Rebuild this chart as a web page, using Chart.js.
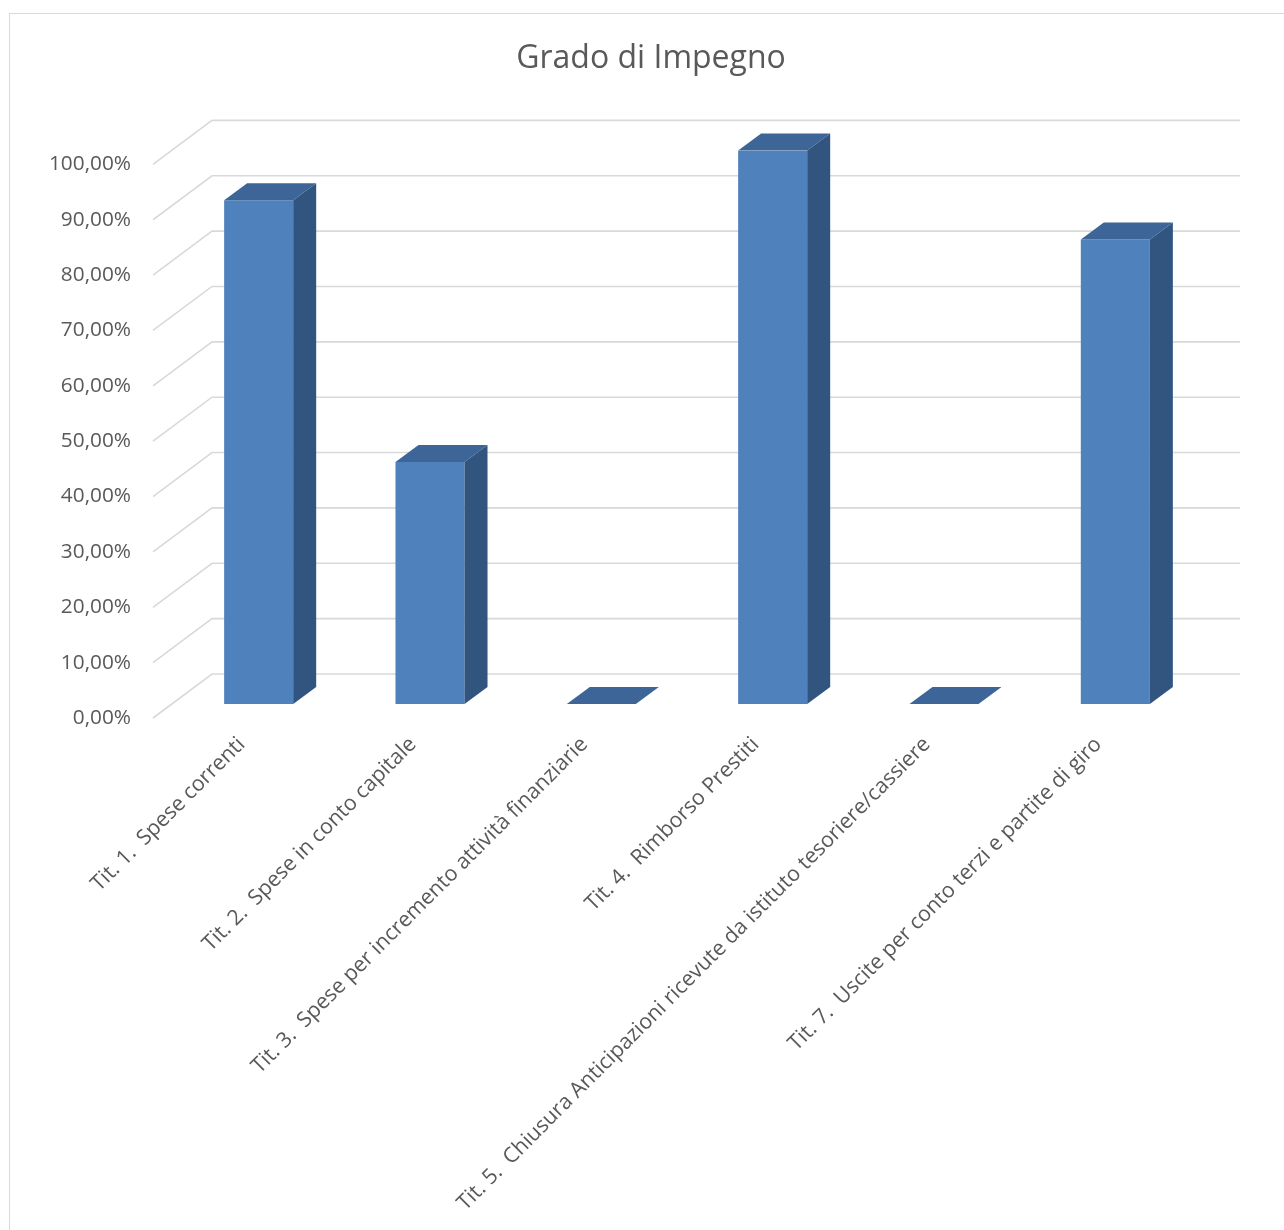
<!DOCTYPE html>
<html lang="it">
<head>
<meta charset="utf-8">
<title>Grado di Impegno</title>
<script src="https://cdn.jsdelivr.net/npm/chart.js@4.4.1/dist/chart.umd.min.js"></script>
<style>
    html, body { margin: 0; padding: 0; background: #ffffff; }
    .frame {
        position: absolute; left: 9px; top: 13px;
        width: 1300px; height: 1240px;
        border-left: 1px solid #d9d9d9; border-top: 1px solid #d9d9d9;
    }
    .wrap { position: absolute; left: 0; top: 0; width: 1284px; height: 1230px; }
</style>
</head>
<body>
<div class="frame"></div>
<div class="wrap"><canvas id="impegnoChart" width="1284" height="1230"></canvas></div>
<script>
const categories = [
    'Tit. 1.  Spese correnti',
    'Tit. 2.  Spese in conto capitale',
    'Tit. 3.  Spese per incremento attività finanziarie',
    'Tit. 4.  Rimborso Prestiti',
    'Tit. 5.  Chiusura Anticipazioni ricevute da istituto tesoriere/cassiere',
    'Tit. 7.  Uscite per conto terzi e partite di giro'
];
const gradoImpegno = [91.0, 43.7, 0, 100, 0, 83.9];
const yTicks = [0, 10, 20, 30, 40, 50, 60, 70, 80, 90, 100];

// pseudo-3D offsets relative to the bar front plane
const DEPTH = [23, -17];   // bar depth
const WALL = [39, -30];    // back wall
const FLOOR = [-20, 14];   // front edge of floor / tick label plane

const COL_FRONT = '#4f81bd';
const COL_TOP = '#3d6597';
const COL_SIDE = '#325580';

function fmtPct(v) {
    return v.toFixed(2).replace('.', ',') + '%';
}

const depthPlugin = {
    id: 'depth3d',
    beforeDatasetsDraw(chart) {
        const { ctx, chartArea: a, scales: { y } } = chart;
        ctx.save();
        ctx.strokeStyle = '#d9d9d9';
        ctx.lineWidth = 1.6;
        yTicks.forEach(v => {
            const py = y.getPixelForValue(v);
            ctx.beginPath();
            ctx.moveTo(a.left + FLOOR[0], py + FLOOR[1]);
            ctx.lineTo(a.left + WALL[0], py + WALL[1]);
            ctx.lineTo(a.right + WALL[0], py + WALL[1]);
            ctx.stroke();
        });
        ctx.restore();
    },
    afterDatasetsDraw(chart) {
        const ctx = chart.ctx;
        const meta = chart.getDatasetMeta(0);
        ctx.save();
        meta.data.forEach(bar => {
            const { x, y, base, width } = bar.getProps(['x', 'y', 'base', 'width'], true);
            const l = x - width / 2, r = x + width / 2;
            const [dx, dy] = DEPTH;

            // top face
            ctx.fillStyle = COL_TOP;
            ctx.beginPath();
            ctx.moveTo(l, y);
            ctx.lineTo(r, y);
            ctx.lineTo(r + dx, y + dy);
            ctx.lineTo(l + dx, y + dy);
            ctx.closePath();
            ctx.fill();

            // right side face
            if (base - y > 0.5) {
                ctx.fillStyle = COL_SIDE;
                ctx.beginPath();
                ctx.moveTo(r, y);
                ctx.lineTo(r + dx, y + dy);
                ctx.lineTo(r + dx, base + dy);
                ctx.lineTo(r, base);
                ctx.closePath();
                ctx.fill();
            }
        });
        ctx.restore();
    }
};

const ctx = document.getElementById('impegnoChart').getContext('2d');
new Chart(ctx, {
    type: 'bar',
    data: {
        labels: categories,
        datasets: [{
            label: 'Grado di Impegno',
            data: gradoImpegno,
            backgroundColor: COL_FRONT,
            borderWidth: 0,
            categoryPercentage: 1,
            barPercentage: 0.403
        }]
    },
    options: {
        responsive: false,
        animation: false,
        layout: { padding: { left: 18, top: 0, right: 0, bottom: 0 } },
        plugins: {
            legend: { display: false },
            tooltip: { enabled: false },
            title: {
                display: true,
                text: 'Grado di Impegno',
                color: '#595959',
                font: { family: "'Open Sans', sans-serif", size: 32, weight: 'normal' },
                padding: { top: 40, bottom: 72 }
            }
        },
        scales: {
            x: {
                grid: { display: false, drawTicks: false },
                border: { display: false },
                ticks: {
                    color: '#595959',
                    font: { family: "'Open Sans', sans-serif", size: 21.3 },
                    minRotation: 45,
                    maxRotation: 45,
                    autoSkip: false,
                    padding: 28,
                    labelOffset: -17
                },
                afterFit(s) { s.height = 526; }
            },
            y: {
                min: 0,
                max: 100,
                grid: { display: false, drawTicks: false },
                border: { display: false },
                ticks: {
                    stepSize: 10,
                    color: '#595959',
                    font: { family: "'Open Sans', sans-serif", size: 20.8 },
                    padding: 42,
                    labelOffset: 14,
                    callback: v => fmtPct(v)
                },
                afterFit(s) { s.width = 155; }
            },
            // empty right-hand strip that leaves room for the back wall depth
            yRight: {
                type: 'linear',
                position: 'right',
                min: 0,
                max: 100,
                grid: { display: false, drawTicks: false },
                border: { display: false },
                ticks: { display: false },
                afterFit(s) { s.width = 83; }
            }
        }
    },
    plugins: [depthPlugin]
});
</script>
</body>
</html>
